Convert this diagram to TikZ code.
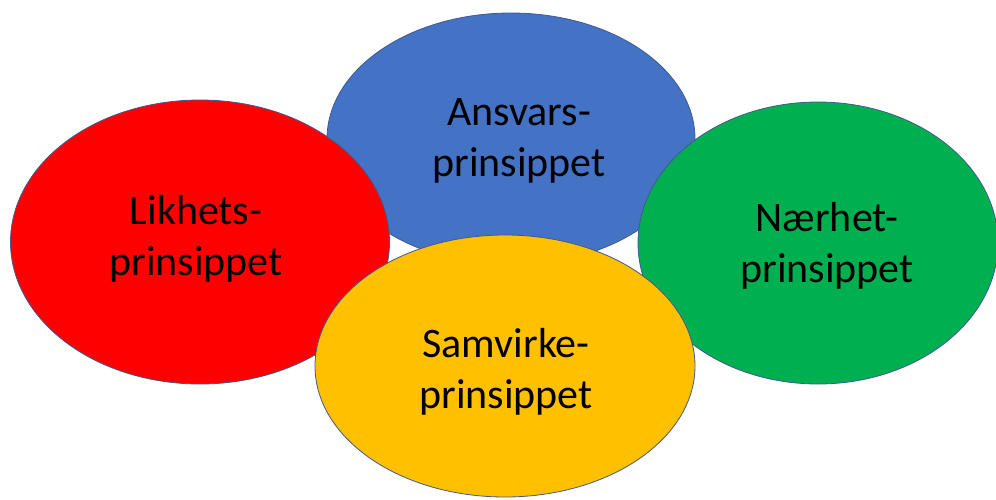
\documentclass[tikz,border=0pt]{standalone}
\usepackage{fontspec}
\setmainfont{Carlito}
\usepackage{tikz}
\usetikzlibrary{shapes.geometric, positioning}
\definecolor{ansvblue}{HTML}{4472C4}
\definecolor{likred}{HTML}{FF0000}
\definecolor{naergreen}{HTML}{00B050}
\definecolor{samyellow}{HTML}{FFC000}
\definecolor{rimblue}{HTML}{41598F}

\begin{document}
\begin{tikzpicture}[x=1pt, y=-1pt, every node/.style={font=\fontsize{42}{51}\selectfont}]
            \tikzset{blob/.style={ellipse, draw=rimblue, line width=0.8pt, inner sep=0pt}, lab/.style={align=center, inner sep=0pt}}
            \useasboundingbox (0,0) rectangle (996,499);
            % ellipses, back to front
            \node[blob, fill=ansvblue, minimum width=368pt, minimum height=252pt] (ansv) at (511,139) {};
            \node[blob, fill=likred, minimum width=379pt, minimum height=284pt] (lik) at (200,242) {};
            \node[blob, fill=naergreen, minimum width=360pt, minimum height=282pt] (naer) at (818,243) {};
            \node[blob, fill=samyellow, minimum width=380pt, minimum height=262pt] (samv) at (505,366) {};
            % labels
            \node[lab, xshift=8pt, yshift=-2pt] (ansvlab) at (ansv.center) {Ansvars-\\prinsippet};
            \node[lab, xshift=-4pt, yshift=3pt] (liklab) at (lik.center) {Likhets-\\prinsippet};
            \node[lab, xshift=9pt, yshift=-3pt] (naerlab) at (naer.center) {Nærhet-\\prinsippet};
            \node[lab, xshift=1pt, yshift=-6pt] (samvlab) at (samv.center) {Samvirke-\\prinsippet};
        \end{tikzpicture}
\end{document}
